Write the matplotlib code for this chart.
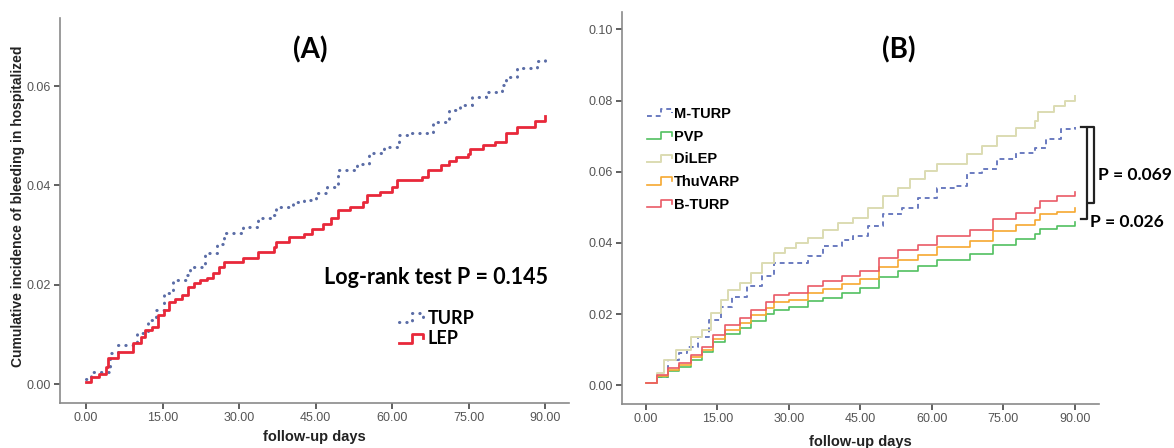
import matplotlib
matplotlib.use("Agg")
import matplotlib.pyplot as plt
from matplotlib.legend_handler import HandlerBase
from matplotlib.lines import Line2D

# ---- panel A data ----
turp_days = [0, 1, 4.8, 6.3, 10, 12.2, 13.7, 15.2, 17, 19.7, 20.4, 23.4, 25.6, 27.1,
             30.8, 33.8, 36.4, 37.2, 40.5, 42.8, 45, 47.2, 49.5, 53.2, 55.4, 58.4,
             61.4, 63.6, 68.1, 71.1, 73.3, 75.6, 78.5, 81.5, 82.3, 84.5, 88.5, 90]
turp_inc = [0.001, 0.0025, 0.0062, 0.0079, 0.0102, 0.0129, 0.0149, 0.0183, 0.021, 0.022,
            0.0236, 0.0263, 0.0283, 0.0305, 0.0317, 0.0334, 0.034, 0.0357, 0.0367, 0.037,
            0.0385, 0.0397, 0.0431, 0.0444, 0.0466, 0.0478, 0.0501, 0.0505, 0.0528, 0.0552,
            0.0562, 0.0579, 0.0589, 0.0602, 0.0619, 0.0636, 0.065, 0.0658]

lep_days = [0, 1, 2.5, 4, 4.4, 6.3, 9.2, 10.7, 11.5, 13, 14.1, 15.2, 16.3, 17.4, 18.9,
            20, 21.2, 22.3, 23.8, 24.9, 26, 27.1, 30.8, 33.8, 36.8, 37.2, 39.8, 42.8,
            44.3, 46.5, 48, 49.5, 51.7, 54.3, 55.1, 57.7, 59.9, 61, 65.8, 67, 69.6, 71.1,
            72.6, 74.8, 75.2, 77.8, 80.1, 82.3, 84.5, 88, 90]
lep_inc = [0.0005, 0.0015, 0.0021, 0.0035, 0.0052, 0.0065, 0.0082, 0.0095, 0.0109, 0.0115,
           0.0139, 0.0149, 0.0166, 0.0172, 0.0179, 0.0196, 0.0203, 0.0209, 0.0213, 0.0223,
           0.0236, 0.0246, 0.0253, 0.0266, 0.0277, 0.0287, 0.0297, 0.0303, 0.0313, 0.0323,
           0.0334, 0.035, 0.0357, 0.0367, 0.0381, 0.0387, 0.0397, 0.0411, 0.0417, 0.0431,
           0.0441, 0.0449, 0.0458, 0.0464, 0.0474, 0.0481, 0.0488, 0.0505, 0.0518, 0.053,
           0.054]

# ---- panel B data ----
dilep_days = [0, 2.2, 3.8, 6.2, 9.4, 11.7, 13.7, 15.7, 17.3, 19.7, 22.1, 24.4, 26.8, 29.2,
              31.5, 34, 37.1, 40.3, 43.5, 46.7, 49.8, 53, 55.4, 58.6, 61, 67.3, 70.5, 73.7,
              77.6, 81.6, 82.4, 85.6, 88, 90]
dilep_inc = [0.0005, 0.0033, 0.007, 0.0099, 0.0136, 0.0155, 0.0202, 0.024, 0.0268, 0.0287,
             0.0315, 0.0343, 0.0372, 0.0386, 0.04, 0.0414, 0.0437, 0.0456, 0.047, 0.0499,
             0.0532, 0.0555, 0.0579, 0.0602, 0.0621, 0.0649, 0.0673, 0.0701, 0.0724, 0.0743,
             0.0767, 0.0785, 0.08, 0.0814]

mturp_days = [0, 2.2, 4.6, 7, 8.6, 11, 13.3, 15.7, 18.1, 21.3, 24.4, 26.8, 34, 37.1, 41.1,
              43.5, 46.7, 49.8, 53.8, 57, 61, 65, 67.3, 70.5, 73.7, 77.6, 81.6, 84, 87.1, 90]
mturp_inc = [0.0005, 0.0024, 0.007, 0.0089, 0.0108, 0.0136, 0.0183, 0.0221, 0.0249, 0.0278,
             0.0306, 0.0343, 0.0362, 0.039, 0.0409, 0.0419, 0.0447, 0.048, 0.0499, 0.0527,
             0.0555, 0.056, 0.0597, 0.0607, 0.0635, 0.0654, 0.0668, 0.0691, 0.072, 0.0727]

b_days = [0, 2.2, 4.6, 7, 9.4, 11.7, 14.1, 16.5, 19.7, 22.1, 25.2, 26.8, 30, 34, 37.1, 41.1,
          45, 49, 53, 57, 61, 68.1, 72.9, 77.6, 81.6, 82.8, 86.3, 90]
bturp_inc = [0.0005, 0.0028, 0.0047, 0.0061, 0.0085, 0.0108, 0.0141, 0.0169, 0.0188, 0.0212,
             0.0235, 0.0254, 0.0259, 0.0278, 0.0292, 0.0306, 0.032, 0.0357, 0.0381, 0.0395,
             0.0419, 0.0437, 0.0466, 0.0485, 0.0499, 0.0517, 0.0532, 0.0544]
thuvarp_inc = [0.0005, 0.0026, 0.0043, 0.0056, 0.0078, 0.0099, 0.013, 0.0156, 0.0175, 0.0196,
               0.0216, 0.0235, 0.024, 0.0259, 0.027, 0.0285, 0.0298, 0.0331, 0.0353, 0.0366,
               0.0388, 0.0405, 0.0432, 0.045, 0.0464, 0.048, 0.0487, 0.0497]
pvp_inc = [0.0005, 0.0024, 0.004, 0.0052, 0.0072, 0.0092, 0.012, 0.0145, 0.0162, 0.0181,
           0.0199, 0.0212, 0.0219, 0.0236, 0.0246, 0.0259, 0.0272, 0.0303, 0.0322, 0.0335,
           0.0353, 0.0369, 0.0394, 0.0411, 0.0424, 0.0438, 0.0447, 0.0459]

x_ticks = [0, 15, 30, 45, 60, 75, 90]
a_yticks = [0.0, 0.02, 0.04, 0.06]
b_yticks = [0.0, 0.02, 0.04, 0.06, 0.08, 0.10]

TICK_FONT = ["Liberation Sans Narrow", "Liberation Sans", "DejaVu Sans"]
BOLD_FONT = ["Liberation Sans", "DejaVu Sans"]
TITLE_FONT = ["Lato", "DejaVu Sans"]


class StepHandler(HandlerBase):
    # SPSS-like step glyph in legend
    def create_artists(self, legend, orig, xdescent, ydescent, width, height, fontsize, trans):
        xs = [0, 0.55, 0.55, 1.0, 1.0]
        ys = [0.15, 0.15, 0.85, 0.85, 0.5]
        line = Line2D([x * width - xdescent for x in xs],
                      [y * height - ydescent for y in ys])
        line.update_from(orig)
        line.set_drawstyle("default")
        line.set_transform(trans)
        return [line]


def style_axes(ax, xlim, ylim, yticks):
    ax.set_xlim(*xlim)
    ax.set_ylim(*ylim)
    ax.set_xticks(x_ticks)
    ax.set_xticklabels([f"{v:.2f}" for v in x_ticks])
    ax.set_yticks(yticks)
    ax.set_yticklabels([f"{v:.2f}" for v in yticks])
    for s in ["top", "right"]:
        ax.spines[s].set_visible(False)
    for s in ["left", "bottom"]:
        ax.spines[s].set_color("#8a8a8a")
        ax.spines[s].set_linewidth(1.2)
    ax.tick_params(direction="out", length=4.5, width=1.2, color="#444444",
                   labelcolor="#555555", labelsize=9, pad=2)
    for lab in ax.get_xticklabels() + ax.get_yticklabels():
        lab.set_family(TICK_FONT)
    ax.set_xlabel("follow-up days", fontsize=10.5, fontweight="bold", family=BOLD_FONT,
                  color="#222222")


fig = plt.figure(figsize=(11.74, 4.48), dpi=100)
axA = fig.add_axes([0.0511, 0.1004, 0.4336, 0.8594])
axB = fig.add_axes([0.5298, 0.0982, 0.4063, 0.875])

# ---- panel A ----
axA.step(turp_days, turp_inc, where="post", color="#5a6ca6", linewidth=2.2,
         linestyle=(0, (0.1, 2.3)), dash_capstyle="round", label="TURP")
axA.step(lep_days, lep_inc, where="post", color="#e8283a", linewidth=2.0, label="LEP")
style_axes(axA, (-5.1, 94.7), (-0.0038, 0.0737), a_yticks)
axA.set_ylabel("Cumulative incidence of bleeding in hospitalized", fontsize=10,
               fontweight="bold", family=BOLD_FONT, color="#222222")
axA.yaxis.set_label_coords(-0.068, 0.51)
axA.xaxis.set_label_coords(0.5, -0.07)
axA.text(0.491, 0.917, "(A)", transform=axA.transAxes, ha="center", va="center",
         fontsize=20, fontweight="bold", family=TITLE_FONT)
axA.text(0.739, 0.327, "Log-rank test P = 0.145", transform=axA.transAxes, ha="center",
         va="center", fontsize=15.5, fontweight="bold", family=TITLE_FONT)
hA, lA = axA.get_legend_handles_labels()
axA.legend(hA, lA, loc="upper left", bbox_to_anchor=(0.666, 0.242), frameon=False,
           borderpad=0, borderaxespad=0, handlelength=1.35, handletextpad=0.25,
           labelspacing=0.2, handler_map={Line2D: StepHandler()},
           prop={"family": TITLE_FONT, "weight": "bold", "size": 13})

# ---- panel B ----
axB.step(mturp_days, mturp_inc, where="post", color="#6a7bc0", linewidth=1.4,
         linestyle=(0, (2.5, 2)), label="M-TURP")
axB.step(b_days, pvp_inc, where="post", color="#52c060", linewidth=1.2, label="PVP")
axB.step(dilep_days, dilep_inc, where="post", color="#dcdcb2", linewidth=1.4, label="DiLEP")
axB.step(b_days, thuvarp_inc, where="post", color="#f6a830", linewidth=1.2, label="ThuVARP")
axB.step(b_days, bturp_inc, where="post", color="#ea5a66", linewidth=1.2, label="B-TURP")
style_axes(axB, (-5.05, 95.1), (-0.0053, 0.1049), b_yticks)
axB.xaxis.set_label_coords(0.5, -0.079)
axB.text(0.581, 0.903, "(B)", transform=axB.transAxes, ha="center", va="center",
         fontsize=20, fontweight="bold", family=TITLE_FONT)
hB, lB = axB.get_legend_handles_labels()
axB.legend(hB, lB, loc="upper left", bbox_to_anchor=(0.0524, 0.758), frameon=False,
           borderpad=0, borderaxespad=0, handlelength=1.7, handletextpad=0.15,
           labelspacing=0.6, handler_map={Line2D: StepHandler()},
           prop={"family": BOLD_FONT, "weight": "bold", "size": 10.5})

# brackets for pairwise comparisons
top = mturp_inc[-1]
axB.plot([92.7, 94.0, 94.0, 92.7], [top, top, 0.0512, 0.0512], color="#222222",
         linewidth=1.6, clip_on=False)
axB.plot([91.3, 92.5, 92.5, 91.3], [top, top, 0.0467, 0.0467], color="#222222",
         linewidth=1.6, clip_on=False)
fig.text(0.9353, 0.6094, "P = 0.069", ha="left", va="center", fontsize=12.5,
         fontweight="bold", family=TITLE_FONT)
fig.text(0.9284, 0.5045, "P = 0.026", ha="left", va="center", fontsize=12.5,
         fontweight="bold", family=TITLE_FONT)

fig.savefig("out.png", dpi=100)
